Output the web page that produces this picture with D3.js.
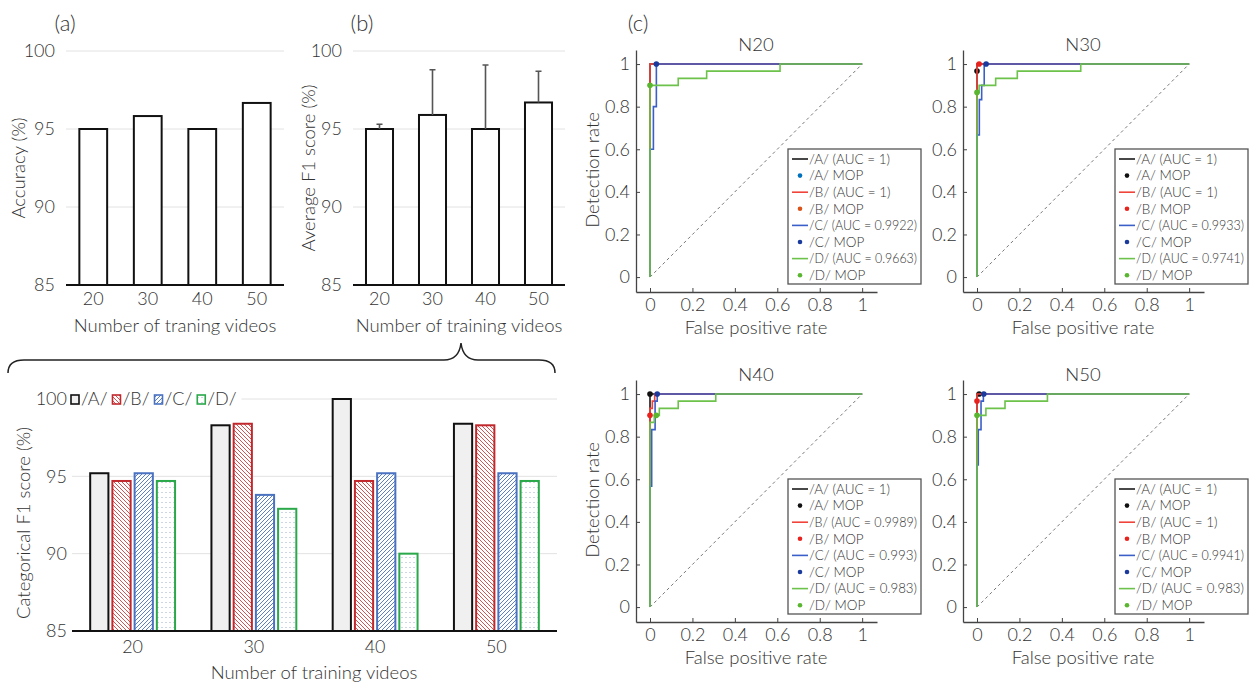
<!DOCTYPE html>
<html><head><meta charset="utf-8">
<script src="https://cdn.jsdelivr.net/npm/d3@7"></script>
<style>
body{margin:0;background:#fff}
text{font-family:Lato,"Open Sans",sans-serif;font-weight:300;fill:#333}
</style></head><body>
<svg id="fig" width="1255" height="687"></svg>
<script>
// data
const trainCounts = ["20", "30", "40", "50"];
const accuracy = [95, 95.83, 95, 96.67];
const avgF1 = [95, 95.9, 95, 96.7];
const avgF1Err = [0.3, 2.9, 4.1, 2.0];
const scoreTicks = [85, 90, 95, 100];

const classes = ["/A/", "/B/", "/C/", "/D/"];
const catF1A = [95.2, 98.3, 100, 98.4];
const catF1B = [94.7, 98.4, 94.7, 98.3];
const catF1C = [95.2, 93.8, 95.2, 95.2];
const catF1D = [94.7, 92.9, 90, 94.7];

// ROC vertices [fpr, tpr] (step-after), per panel A,B,C,D
const rocN20 = [
  [[0,0],[0,1],[1,1]],
  [[0,0],[0,1],[1,1]],
  [[0,0],[0,0.6],[0.016,0.8],[0.03,1],[1,1]],
  [[0,0],[0,0.9],[0.133,0.933],[0.267,0.967],[0.613,1],[1,1]]
];
const rocN30 = [
  [[0,0],[0,1],[1,1]],
  [[0,0],[0,1],[1,1]],
  [[0,0],[0,0.667],[0.011,0.833],[0.022,0.9],[0.034,1],[1,1]],
  [[0,0],[0,0.867],[0.01,0.9],[0.088,0.933],[0.19,0.967],[0.489,1],[1,1]]
];
const rocN40 = [
  [[0,0],[0,1],[1,1]],
  [[0,0],[0,0.933],[0.011,0.967],[0.022,1],[1,1]],
  [[0,0],[0,0.567],[0.008,0.833],[0.024,0.967],[0.034,1],[1,1]],
  [[0,0],[0,0.867],[0.02,0.9],[0.044,0.933],[0.133,0.967],[0.31,1],[1,1]]
];
const rocN50 = [
  [[0,0],[0,1],[1,1]],
  [[0,0],[0,1],[1,1]],
  [[0,0],[0,0.667],[0.006,0.833],[0.019,0.967],[0.03,1],[1,1]],
  [[0,0],[0,0.9],[0.042,0.933],[0.132,0.967],[0.332,1],[1,1]]
];
const mopN20 = [null, null, [0.03,1], [0,0.9]];
const mopN30 = [[0,0.967], [0.01,1], [0.043,1], [0,0.867]];
const mopN40 = [[0,1], [0,0.9], [0.034,1], [0.03,0.9]];
const mopN50 = [[0.01,1], [0,0.967], [0.032,1], [0,0.9]];
const aucN20 = ["1", "1", "0.9922", "0.9663"];
const aucN30 = ["1", "1", "0.9933", "0.9741"];
const aucN40 = ["1", "0.9989", "0.993", "0.983"];
const aucN50 = ["1", "1", "0.9941", "0.983"];
const rateTicks = [0, 0.2, 0.4, 0.6, 0.8, 1];

const lineColors = ["#1a1a1a", "#f0443a", "#3b5fc8", "#6cc24a"];
const mopColorsN20 = ["#0072BD", "#D95319", "#1a3a9e", "#5ab52f"];
const mopColors = ["#111", "#e8221c", "#1a3a9e", "#5ab52f"];
const barStroke = ["#111", "#c0282d", "#4a72c0", "#2aa84a"];

const svg = d3.select("#fig");
const defs = svg.append("defs");

// fill patterns for the categorical bars
defs.append("pattern").attr("id", "hatchB").attr("patternUnits", "userSpaceOnUse")
  .attr("width", 4).attr("height", 4)
  .call(p => { p.append("rect").attr("width", 4).attr("height", 4).attr("fill", "#fff");
    p.append("path").attr("d", "M-1,-1L5,5M-1,3L1,5M3,-1L5,1").attr("stroke", "#d04040").attr("stroke-width", 0.9); });
defs.append("pattern").attr("id", "hatchC").attr("patternUnits", "userSpaceOnUse")
  .attr("width", 4).attr("height", 4)
  .call(p => { p.append("rect").attr("width", 4).attr("height", 4).attr("fill", "#fff");
    p.append("path").attr("d", "M-1,5L5,-1M-1,1L1,-1M3,5L5,3").attr("stroke", "#4a72c0").attr("stroke-width", 0.9); });
defs.append("pattern").attr("id", "dotsD").attr("patternUnits", "userSpaceOnUse")
  .attr("width", 4).attr("height", 5)
  .call(p => { p.append("rect").attr("width", 4).attr("height", 5).attr("fill", "#fff");
    p.append("circle").attr("cx", 2).attr("cy", 2.5).attr("r", 0.6).attr("fill", "#8fa6c6"); });
const barFills = ["#f0f0f0", "url(#hatchB)", "url(#hatchC)", "url(#dotsD)"];

// (a), (b): simple bar charts
function drawTopBars(x0, x1, values, errors, yLabel, yLabelX, xTitle, tag, tagX) {
  const y = d3.scaleLinear().domain([85, 100]).range([285, 51]);
  const x = d3.scaleBand().domain(trainCounts).range([x0, x1]).paddingInner(0.49).paddingOuter(0.245);
  const g = svg.append("g");

  g.selectAll(".grid").data(scoreTicks.slice(1)).join("line")
    .attr("x1", x0).attr("x2", x1).attr("y1", d => y(d)).attr("y2", d => y(d))
    .attr("stroke", "#e2e2e2");
  g.selectAll(".yt").data(scoreTicks).join("text")
    .attr("x", x0 - 11).attr("y", d => y(d)).attr("dy", "0.35em")
    .attr("text-anchor", "end").attr("font-size", 18).text(d => d);

  g.selectAll(".bar").data(values).join("rect")
    .attr("x", (d, i) => x(trainCounts[i])).attr("width", x.bandwidth())
    .attr("y", d => y(d)).attr("height", d => y(85) - y(d))
    .attr("fill", "#fff").attr("stroke", "#111").attr("stroke-width", 2);

  if (errors) {
    g.selectAll(".err").data(values).join("path")
      .attr("d", (d, i) => {
        const cx = x(trainCounts[i]) + x.bandwidth() / 2, top = y(d + errors[i]);
        return `M${cx},${y(d)}V${top}M${cx - 3},${top}H${cx + 3}`;
      })
      .attr("stroke", "#555").attr("stroke-width", 1.6).attr("fill", "none");
  }

  g.append("line").attr("x1", x0).attr("x2", x1).attr("y1", y(85)).attr("y2", y(85))
    .attr("stroke", "#111").attr("stroke-width", 2);
  g.selectAll(".xt").data(trainCounts).join("text")
    .attr("x", d => x(d) + x.bandwidth() / 2).attr("y", 299).attr("dy", "0.35em")
    .attr("text-anchor", "middle").attr("font-size", 18).text(d => d);
  g.append("text").attr("x", (x0 + x1) / 2).attr("y", 326).attr("dy", "0.35em")
    .attr("text-anchor", "middle").attr("font-size", 18.5).text(xTitle);
  g.append("text").attr("transform", `translate(${yLabelX},168) rotate(-90)`)
    .attr("dy", "0.35em").attr("text-anchor", "middle").attr("font-size", 18.5).text(yLabel);
  g.append("text").attr("x", tagX).attr("y", 23).attr("dy", "0.35em")
    .attr("text-anchor", "middle").attr("font-size", 22).text(tag);
}

drawTopBars(66, 284, accuracy, null, "Accuracy (%)", 19, "Number of traning videos", "(a)", 65);
drawTopBars(353, 565, avgF1, avgF1Err, "Average F1 score (%)", 309, "Number of training videos", "(b)", 362);

// brace linking (b) to the categorical chart
svg.append("path")
  .attr("d", "M8,373Q8,360,24,360H444Q459,360,461,343Q463,360,478,360H539Q555,360,555,373")
  .attr("fill", "none").attr("stroke", "#222").attr("stroke-width", 1.5);

// categorical F1 grouped bars
(function () {
  const series = [catF1A, catF1B, catF1C, catF1D];
  const y = d3.scaleLinear().domain([85, 100]).range([631, 399]);
  const x = d3.scaleBand().domain(trainCounts).range([72, 557]).paddingInner(0.3).paddingOuter(0.15);
  const xs = d3.scaleBand().domain(classes).range([0, x.bandwidth()]).paddingInner(0.18);
  const g = svg.append("g");

  g.selectAll(".grid").data(scoreTicks.slice(1)).join("line")
    .attr("x1", 72).attr("x2", 557).attr("y1", d => y(d)).attr("y2", d => y(d))
    .attr("stroke", "#e2e2e2");
  g.selectAll(".yt").data(scoreTicks).join("text")
    .attr("x", 67).attr("y", d => y(d)).attr("dy", "0.35em")
    .attr("text-anchor", "end").attr("font-size", 18).text(d => d);

  series.forEach((vals, k) => {
    g.selectAll(".bar" + k).data(vals).join("rect")
      .attr("x", (d, i) => x(trainCounts[i]) + xs(classes[k])).attr("width", xs.bandwidth())
      .attr("y", d => y(d)).attr("height", d => y(85) - y(d))
      .attr("fill", barFills[k]).attr("stroke", barStroke[k]).attr("stroke-width", 2);
  });

  g.append("line").attr("x1", 72).attr("x2", 557).attr("y1", y(85)).attr("y2", y(85))
    .attr("stroke", "#111").attr("stroke-width", 2);
  g.selectAll(".xt").data(trainCounts).join("text")
    .attr("x", d => x(d) + x.bandwidth() / 2).attr("y", 647).attr("dy", "0.35em")
    .attr("text-anchor", "middle").attr("font-size", 18).text(d => d);
  g.append("text").attr("x", 314).attr("y", 673).attr("dy", "0.35em")
    .attr("text-anchor", "middle").attr("font-size", 18.5).text("Number of training videos");
  g.append("text").attr("transform", "translate(24,523) rotate(-90)")
    .attr("dy", "0.35em").attr("text-anchor", "middle").attr("font-size", 18.5).text("Categorical F1 score (%)");

  // legend
  const lg = g.append("g");
  const bg = lg.append("rect").attr("fill", "#fff").attr("y", 390).attr("height", 18);
  let cx = 71;
  classes.forEach((c, k) => {
    lg.append("rect").attr("x", cx).attr("y", 395).attr("width", 8).attr("height", 9)
      .attr("fill", barFills[k]).attr("stroke", barStroke[k]).attr("stroke-width", 1.6);
    const t = lg.append("text").attr("x", cx + 10).attr("y", 399).attr("dy", "0.35em")
      .attr("font-size", 18).text(c);
    cx += 10 + t.node().getComputedTextLength() + 5;
  });
  bg.attr("x", 69).attr("width", cx - 69);
})();

// (c) ROC panels
function drawRoc(ox, oy, title, curves, mops, aucs, dotColors, showYLabel) {
  const x = d3.scaleLinear().domain([-0.066, 1.07]).range([ox - 14, ox + 227]);
  const y = d3.scaleLinear().domain([-0.07, 1.066]).range([oy + 228, oy - 14]);
  const g = svg.append("g");

  const ax = g.append("g").attr("transform", `translate(0,${y(-0.07)})`)
    .call(d3.axisBottom(x).tickValues(rateTicks).tickSize(-4).tickSizeOuter(0).tickPadding(6).tickFormat(d => d));
  const ay = g.append("g").attr("transform", `translate(${x(-0.066)},0)`)
    .call(d3.axisLeft(y).tickValues(rateTicks).tickSize(-4).tickSizeOuter(0).tickPadding(6).tickFormat(d => d));
  [ax, ay].forEach(a => {
    a.select(".domain").attr("stroke", "#444").attr("stroke-width", 1.3);
    a.selectAll(".tick line").attr("stroke", "#444");
    a.selectAll("text").attr("font-size", 18).attr("font-family", "Lato, 'Open Sans', sans-serif")
      .attr("font-weight", 300).attr("fill", "#333");
  });

  g.append("line").attr("x1", x(0)).attr("y1", y(0)).attr("x2", x(1)).attr("y2", y(1))
    .attr("stroke", "#777").attr("stroke-dasharray", "3,3");

  const line = d3.line().x(d => x(d[0])).y(d => y(d[1])).curve(d3.curveStepAfter);
  curves.forEach((pts, k) => {
    g.append("path").attr("d", line(pts)).attr("fill", "none")
      .attr("stroke", lineColors[k]).attr("stroke-width", 1.6);
    if (mops[k]) {
      g.append("circle").attr("cx", x(mops[k][0])).attr("cy", y(mops[k][1])).attr("r", 2.8)
        .attr("fill", dotColors[k]);
    }
  });

  g.append("text").attr("x", x(0.5)).attr("y", oy - 19).attr("dy", "0.35em")
    .attr("text-anchor", "middle").attr("font-size", 18.5).text(title);
  g.append("text").attr("x", x(0.5)).attr("y", oy + 264).attr("dy", "0.35em")
    .attr("text-anchor", "middle").attr("font-size", 18.5).text("False positive rate");
  if (showYLabel) {
    g.append("text").attr("transform", `translate(${ox - 57},${oy + 106}) rotate(-90)`)
      .attr("dy", "0.35em").attr("text-anchor", "middle").attr("font-size", 18.5).text("Detection rate");
  }

  // legend
  const lx = ox + 138, ly = oy + 85;
  g.append("rect").attr("x", lx).attr("y", ly).attr("width", 133).attr("height", 135)
    .attr("fill", "#fff").attr("stroke", "#555").attr("stroke-width", 1.3);
  const fit = t => { if (t.node().getComputedTextLength() > 108) t.attr("textLength", 108).attr("lengthAdjust", "spacingAndGlyphs"); };
  classes.forEach((c, k) => {
    const r1 = ly + 10 + (2 * k) * 16.6, r2 = r1 + 16.6;
    g.append("line").attr("x1", lx + 4).attr("x2", lx + 20).attr("y1", r1).attr("y2", r1)
      .attr("stroke", lineColors[k]).attr("stroke-width", 1.6);
    g.append("text").attr("x", lx + 21).attr("y", r1).attr("dy", "0.35em")
      .attr("font-size", 13.5).text(`${c} (AUC = ${aucs[k]})`).call(fit);
    g.append("circle").attr("cx", lx + 12).attr("cy", r2).attr("r", 2.3).attr("fill", dotColors[k]);
    g.append("text").attr("x", lx + 21).attr("y", r2).attr("dy", "0.35em")
      .attr("font-size", 13.5).text(`${c} MOP`);
  });
}

drawRoc(650, 64, "N20", rocN20, mopN20, aucN20, mopColorsN20, true);
drawRoc(977, 64, "N30", rocN30, mopN30, aucN30, mopColors, false);
drawRoc(650, 394, "N40", rocN40, mopN40, aucN40, mopColors, true);
drawRoc(977, 394, "N50", rocN50, mopN50, aucN50, mopColors, false);

svg.append("text").attr("x", 638).attr("y", 23).attr("dy", "0.35em")
  .attr("text-anchor", "middle").attr("font-size", 22).text("(c)");
</script></body></html>
